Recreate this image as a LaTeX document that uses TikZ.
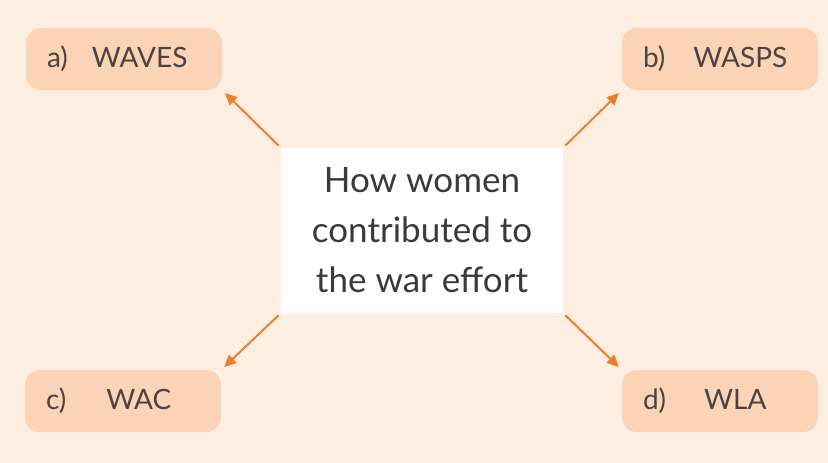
\documentclass[tikz,border=0pt]{standalone}
\usepackage{fontspec}
\setmainfont{Lato}
\usetikzlibrary{arrows.meta}
\definecolor{bgpeach}{HTML}{FDEEE1}
\definecolor{boxpeach}{HTML}{FBD3B6}
\definecolor{arrorange}{HTML}{E8802F}
\definecolor{txtbrown}{HTML}{4D4340}
\definecolor{txtgray}{HTML}{3A3A3A}
\tikzset{
  lbox/.style={fill=boxpeach, rounded corners=15pt, minimum width=196pt, minimum height=62pt,
    text width=154pt, inner xsep=21pt, align=left, text=txtbrown, font=\fontsize{28}{32}\selectfont},
  cbox/.style={fill=white, minimum width=282pt, minimum height=165pt, align=center,
    text=txtgray, font=\fontsize{35}{50}\selectfont},
  arr/.style={draw=arrorange, line width=2pt, -{Triangle[length=12pt,width=11pt]}, shorten >=4pt, shorten <=3pt}
}
\begin{document}
\begin{tikzpicture}[x=1pt,y=-1pt]
\fill[bgpeach] (0,0) rectangle (828,463);
\useasboundingbox (0,0) rectangle (828,463);
\node[cbox] (c) at (422,230.5) {How women\\contributed to\\the war effort};
\node[lbox] (a) at (124,59) {a)\hspace{24pt}WAVES};
\node[lbox] (b) at (720,59) {b)\hspace{28pt}WASPS};
\node[lbox] (cc) at (123,401) {c)\hspace{40pt}WAC};
\node[lbox] (d) at (720,401) {d)\hspace{38pt}WLA};
\draw[arr] (c.north west) -- (a.south east);
\draw[arr] (c.north east) -- (b.south west);
\draw[arr] (c.south west) -- (cc.north east);
\draw[arr] (c.south east) -- (d.north west);
\end{tikzpicture}
\end{document}
